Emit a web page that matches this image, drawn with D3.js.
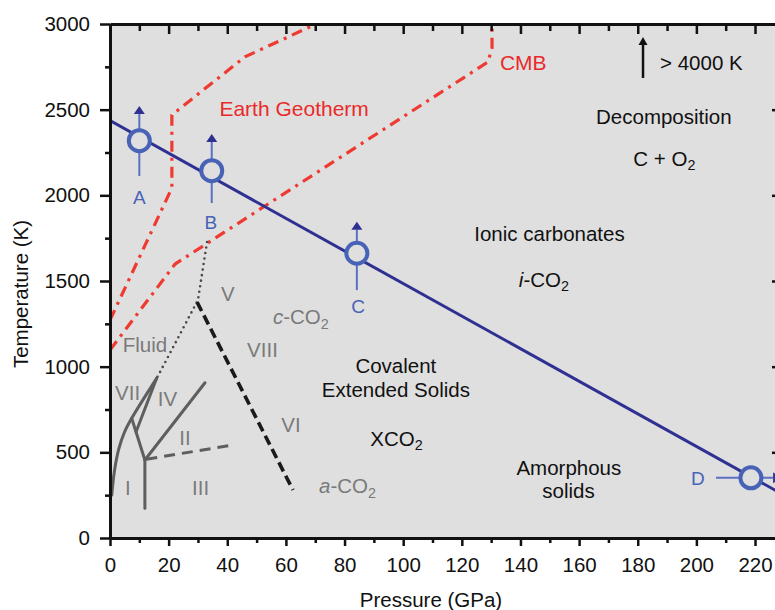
<!DOCTYPE html>
<html>
<head>
<meta charset="utf-8">
<script src="https://cdn.jsdelivr.net/npm/d3@7"></script>
<style>
  body { margin: 0; background: #fff; }
  svg { display: block; font-family: "Liberation Sans", Arial, Helvetica, sans-serif; }
</style>
</head>
<body>
<div id="chart"></div>
<script>
// ---- data (pressure in GPa, temperature in K) ----
const pressure_major = [0, 20, 40, 60, 80, 100, 120, 140, 160, 180, 200, 220];
const pressure_minor = [10, 30, 50, 70, 90, 110, 130, 150, 170, 190, 210];
const temperature_major = [0, 500, 1000, 1500, 2000, 2500, 3000];
const temperature_minor = [250, 750, 1250, 1750, 2250, 2750];

// Earth geotherm and CMB (red dash-dot)
const geotherm_P = [0, 21.1, 21.1, 46.0, 70.3];
const geotherm_T = [1272, 2043, 2469, 2808, 3000];
const cmb_P = [0, 22.2, 128.9, 130.3, 130.3];
const cmb_T = [1097, 1599, 2778, 2860, 3000];

// melting / decomposition line (blue)
const melt_P = [0, 227.5];
const melt_T = [2436, 273];

// experimental points
const point_names = ["A", "B", "C", "D"];
const point_P = [10.0, 34.7, 84.2, 218.6];
const point_T = [2319, 2144, 1662, 351];
const point_dir = ["up", "up", "up", "right"];
const point_low = [2113, 1955, 1447, 206.7];
const point_high = [2521, 2358, 1846, 228.9];

// molecular phase boundaries (grey)
const curve_I_P = [0.6, 1.5, 3.0, 5.0, 7.4, 15.9];
const curve_I_T = [250, 390, 520, 620, 699, 932];
const solid_segments = [
  { P: [7.4, 11.9], T: [699, 455] },
  { P: [8.9, 15.9], T: [620, 932] },
  { P: [11.9, 32.4], T: [455, 906] },
  { P: [11.9, 11.9], T: [455, 173] },
];
const dashed_grey_P = [12.4, 42.1];
const dashed_grey_T = [460, 543];
const dotted_P = [33.1, 30.0, 16.0];
const dotted_T = [1728, 1389, 934];
const dashed_black_P = [29.7, 62.4];
const dashed_black_T = [1377, 280];

// ---- layout ----
const width = 775, height = 610;
const plot = { left: 110, right: 777, top: 24, bottom: 538 };
const colors = {
  bg: "#dfdfdf",
  axis: "#111",
  red: "#ee3a30",
  red_text: "#ea2a2a",
  blue: "#2e3192",
  marker: "#4863b6",
  marker_bar: "#5b70c2",
  grey_text: "#7a7a7a",
  grey_line: "#5e5e5e",
};

const x = d3.scaleLinear().domain([0, 227.5]).range([plot.left, plot.right]);
const y = d3.scaleLinear().domain([0, 3000]).range([plot.bottom, plot.top]);

const svg = d3.select("#chart").append("svg").attr("width", width).attr("height", height);

svg.append("defs").append("clipPath").attr("id", "plot_clip")
  .append("rect")
  .attr("x", plot.left).attr("y", plot.top)
  .attr("width", plot.right - plot.left).attr("height", plot.bottom - plot.top);

svg.append("rect")
  .attr("x", plot.left).attr("y", plot.top)
  .attr("width", plot.right - plot.left).attr("height", plot.bottom - plot.top)
  .attr("fill", colors.bg);

const lines_g = svg.append("g").attr("clip-path", "url(#plot_clip)");

const zip = (P, T) => P.map((p, i) => [p, T[i]]);
const line = d3.line().x((d) => x(d[0])).y((d) => y(d[1]));

function draw_path(pts, style, curve) {
  const gen = curve ? d3.line().curve(curve).x((d) => x(d[0])).y((d) => y(d[1])) : line;
  const p = lines_g.append("path").attr("d", gen(pts)).attr("fill", "none");
  Object.entries(style).forEach(([k, v]) => p.attr(k, v));
  return p;
}

// red dash-dot lines
const red_style = {
  stroke: colors.red, "stroke-width": 3.2, "stroke-dasharray": "11,6,3,6",
};
draw_path(zip(geotherm_P, geotherm_T), red_style);
draw_path(zip(cmb_P, cmb_T), red_style);

// grey phase boundaries
const grey_style = { stroke: colors.grey_line, "stroke-width": 3, "stroke-linecap": "round" };
draw_path(zip(curve_I_P, curve_I_T), grey_style, d3.curveCatmullRom);
solid_segments.forEach((s) => draw_path(zip(s.P, s.T), grey_style));
draw_path(zip(dashed_grey_P, dashed_grey_T), {
  stroke: colors.grey_line, "stroke-width": 3, "stroke-dasharray": "11,7",
});
draw_path(zip(dotted_P, dotted_T), {
  stroke: "#4a4a4a", "stroke-width": 2.6, "stroke-dasharray": "0,5.6", "stroke-linecap": "round",
});
draw_path(zip(dashed_black_P, dashed_black_T), {
  stroke: "#1a1a1a", "stroke-width": 3.6, "stroke-dasharray": "10,5",
});

// blue melting line
draw_path(zip(melt_P, melt_T), { stroke: colors.blue, "stroke-width": 3 });

// experimental points with bars and arrows
const head = 8, head_w = 5.5;
point_names.forEach((name, i) => {
  const cx = x(point_P[i]), cy = y(point_T[i]);
  if (point_dir[i] === "up") {
    const y_low = y(point_low[i]), y_tip = y(point_high[i]);
    lines_g.append("line")
      .attr("x1", cx).attr("x2", cx).attr("y1", y_low).attr("y2", y_tip + head)
      .attr("stroke", colors.marker_bar).attr("stroke-width", 2);
    lines_g.append("path")
      .attr("d", `M${cx},${y_tip} L${cx - head_w},${y_tip + head} L${cx + head_w},${y_tip + head} Z`)
      .attr("fill", colors.blue);
  } else {
    const x_low = x(point_low[i]), x_tip = x(point_high[i]);
    lines_g.append("line")
      .attr("y1", cy).attr("y2", cy).attr("x1", x_low).attr("x2", x_tip - head)
      .attr("stroke", colors.marker_bar).attr("stroke-width", 2);
    lines_g.append("path")
      .attr("d", `M${x_tip},${cy} L${x_tip - head},${cy - head_w} L${x_tip - head},${cy + head_w} Z`)
      .attr("fill", colors.blue);
  }
  lines_g.append("circle")
    .attr("cx", cx).attr("cy", cy).attr("r", 10.5)
    .attr("fill", colors.bg)
    .attr("stroke", colors.marker).attr("stroke-width", 4);
});

// ---- axes ----
const style_axis = (g) => {
  g.select(".domain").attr("stroke", colors.axis).attr("stroke-width", 3);
  g.selectAll(".tick line").attr("stroke", colors.axis).attr("stroke-width", 2.5);
  g.selectAll(".tick text")
    .attr("fill", colors.axis)
    .attr("font-size", 20.5)
    .attr("font-family", '"Liberation Sans", Arial, Helvetica, sans-serif');
};

const all_pressure = pressure_major.concat(pressure_minor).sort((a, b) => a - b);
const all_temp = temperature_major.concat(temperature_minor).sort((a, b) => a - b);
const is_major_p = (d) => pressure_major.includes(d);
const is_major_t = (d) => temperature_major.includes(d);

// bottom
svg.append("g")
  .attr("transform", `translate(0,${plot.bottom})`)
  .call(d3.axisBottom(x).tickValues(all_pressure).tickSizeOuter(0).tickSizeInner(8).tickPadding(11)
    .tickFormat((d) => (is_major_p(d) ? d : "")))
  .call(style_axis)
  .call((g) => g.selectAll(".tick line").attr("y2", (d) => (is_major_p(d) ? 8 : 5)));

// top (ticks inward)
svg.append("g")
  .attr("transform", `translate(0,${plot.top})`)
  .call(d3.axisTop(x).tickValues(all_pressure).tickSizeOuter(0).tickSizeInner(-10).tickFormat(""))
  .call(style_axis)
  .call((g) => g.selectAll(".tick line").attr("y2", (d) => (is_major_p(d) ? 10 : 7)));

// left
svg.append("g")
  .attr("transform", `translate(${plot.left},0)`)
  .call(d3.axisLeft(y).tickValues(all_temp).tickSizeOuter(0).tickSizeInner(10).tickPadding(10)
    .tickFormat((d) => (is_major_t(d) ? d : "")))
  .call(style_axis)
  .call((g) => g.selectAll(".tick line").attr("x2", (d) => (is_major_t(d) ? -10 : -5)));

// right (ticks inward)
svg.append("g")
  .attr("transform", `translate(${plot.right},0)`)
  .call(d3.axisRight(y).tickValues(temperature_major).tickSizeOuter(0).tickSizeInner(-5).tickFormat(""))
  .call(style_axis);

svg.append("text")
  .attr("x", 431).attr("y", 607)
  .attr("text-anchor", "middle")
  .attr("font-size", 20.5).attr("fill", colors.axis)
  .text("Pressure (GPa)");

svg.append("text")
  .attr("transform", "translate(20,294) rotate(-90)")
  .attr("text-anchor", "middle").attr("dominant-baseline", "central")
  .attr("font-size", 20.5).attr("fill", colors.axis)
  .text("Temperature (K)");

// ---- annotations (positions in P, T) ----
function put_text(parts, P, T, size, fill, anchor = "middle") {
  const t = svg.append("text")
    .attr("x", x(P)).attr("y", y(T) + size * 0.36)
    .attr("text-anchor", anchor)
    .attr("font-size", size).attr("fill", fill);
  parts.forEach((p) => {
    const s = t.append("tspan").text(p.t);
    if (p.i) s.attr("font-style", "italic");
    if (p.sub) s.attr("font-size", size * 0.7).attr("dy", size * 0.22);
  });
  return t;
}

const grey_labels = [
  { parts: [{ t: "V" }], P: 40.2, T: 1424 },
  { parts: [{ t: "c", i: true }, { t: "-CO" }, { t: "2", sub: true }], P: 65.1, T: 1290 },
  { parts: [{ t: "Fluid" }], P: 11.9, T: 1126 },
  { parts: [{ t: "VIII" }], P: 52.0, T: 1097 },
  { parts: [{ t: "VII" }], P: 6.0, T: 846 },
  { parts: [{ t: "IV" }], P: 19.6, T: 811 },
  { parts: [{ t: "II" }], P: 25.6, T: 584 },
  { parts: [{ t: "VI" }], P: 61.7, T: 660 },
  { parts: [{ t: "I" }], P: 6.1, T: 292 },
  { parts: [{ t: "III" }], P: 30.9, T: 292 },
  { parts: [{ t: "a", i: true }, { t: "-CO" }, { t: "2", sub: true }], P: 81.0, T: 305 },
];
grey_labels.forEach((l) => put_text(l.parts, l.P, l.T, 20.5, colors.grey_text));

const black_labels = [
  { parts: [{ t: "Covalent" }], P: 97.5, T: 1004 },
  { parts: [{ t: "Extended Solids" }], P: 97.5, T: 864 },
  { parts: [{ t: "XCO" }, { t: "2", sub: true }], P: 97.7, T: 582 },
  { parts: [{ t: "Amorphous" }], P: 156.5, T: 409 },
  { parts: [{ t: "solids" }], P: 156.4, T: 274 },
  { parts: [{ t: "Ionic carbonates" }], P: 149.9, T: 1774 },
  { parts: [{ t: "i", i: true }, { t: "-CO" }, { t: "2", sub: true }], P: 148.0, T: 1510 },
  { parts: [{ t: "Decomposition" }], P: 188.9, T: 2457 },
  { parts: [{ t: "C + O" }, { t: "2", sub: true }], P: 189.1, T: 2216 },
];
black_labels.forEach((l) => put_text(l.parts, l.P, l.T, 20.5, "#111"));

put_text([{ t: "> 4000 K" }], 187.6, 2772, 20.5, "#111", "start");

// black arrow for > 4000 K
const arrow_P = 181.8, arrow_T0 = 2685, arrow_T1 = 2924;
svg.append("line")
  .attr("x1", x(arrow_P)).attr("x2", x(arrow_P))
  .attr("y1", y(arrow_T0)).attr("y2", y(arrow_T1) + 6)
  .attr("stroke", "#111").attr("stroke-width", 2.5);
svg.append("path")
  .attr("d", `M${x(arrow_P)},${y(arrow_T1)} L${x(arrow_P) - 4.5},${y(arrow_T1) + 8} L${x(arrow_P) + 4.5},${y(arrow_T1) + 8} Z`)
  .attr("fill", "#111");

put_text([{ t: "Earth Geotherm" }], 62.8, 2510, 21, colors.red_text);
put_text([{ t: "CMB" }], 133.0, 2778, 21, colors.red_text, "start");

const point_label_P = [10.0, 34.4, 84.6, 200.5];
const point_label_T = [1990, 1844, 1354, 350];
point_names.forEach((n, i) =>
  put_text([{ t: n }], point_label_P[i], point_label_T[i], 19, colors.marker)
);
</script>
</body>
</html>
